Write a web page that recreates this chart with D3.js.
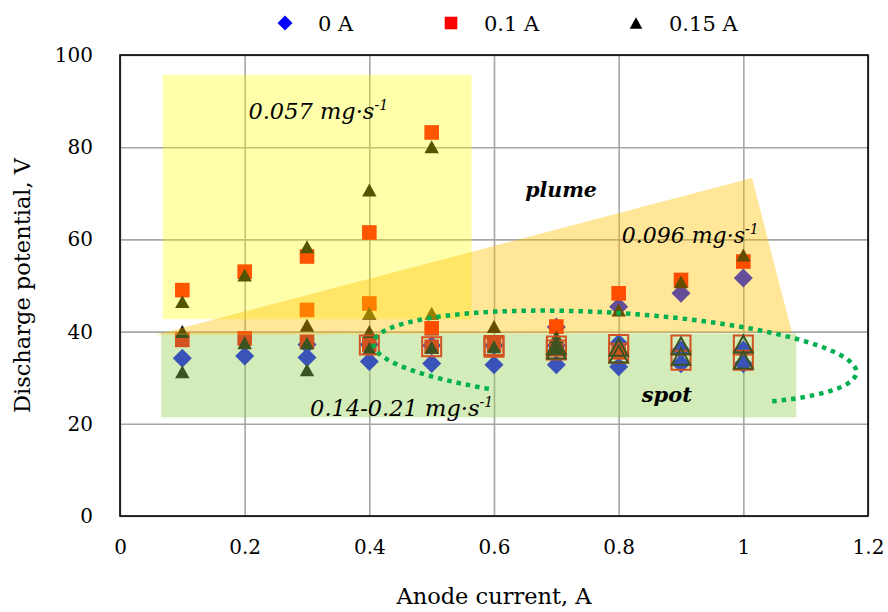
<!DOCTYPE html>
<html>
<head>
<meta charset="utf-8">
<script src="https://cdn.jsdelivr.net/npm/d3@7"></script>
<style>
  body { margin: 0; background: #fff; }
  svg text { font-family: "DejaVu Serif", "Liberation Serif", serif; fill: #000; }
</style>
</head>
<body>
<svg id="chart" width="888" height="612"></svg>
<script>
// Anode current values (A) shared by every run
const currents = [0.1, 0.2, 0.3, 0.4, 0.5, 0.6, 0.7, 0.8, 0.9, 1.0];

// Discharge potential (V) – magnetic coil current 0 A (diamonds)
const coil0_low  = [34.2, 34.7, 34.4, 33.5, 33.1, 32.8, 32.8, 32.4, 33.0, 33.0];
const coil0_mid  = [null, null, 37.2, 37.2, 37.0, 37.0, 37.0, 37.5, 36.0, 36.0];
const coil0_high = [null, null, null, null, null, null, 41.0, 45.4, 48.3, 51.6];

// Discharge potential (V) – coil current 0.1 A (squares)
const coil1_high = [49.0, 53.0, 56.3, 61.5, 83.2, null, 41.1, 48.3, 51.2, 55.2];
const coil1_mid  = [38.2, 38.5, 44.7, 46.1, 40.7, 37.1, 36.2, 35.5, null, null];
const coil1_low  = [null, null, 37.8, 37.1, 36.7, null, null, null, null, null];
const coil1_open_a = [null, null, null, 37.1, 36.7, 37.0, 36.9, 37.2, 37.1, 37.1];
const coil1_open_b = [null, null, null, null, null, 36.6, 36.0, 35.3, 33.8, 33.8];

// Discharge potential (V) – coil current 0.15 A (triangles)
const coil2_high = [46.5, 52.3, 58.4, 70.7, 80.1, null, null, 44.7, 50.8, 56.6];
const coil2_mid  = [40.0, 37.6, 41.4, 44.0, 44.0, 41.1, 38.9, null, null, null];
const coil2_low  = [31.3, null, 37.5, 40.0, 36.6, 36.7, 36.4, null, null, null];
const coil2_base = [null, null, 31.7, 36.4, null, null, null, null, null, null];
const coil2_open_a = [null, null, null, null, null, null, 36.9, 36.6, 36.9, 37.3];
const coil2_open_b = [null, null, null, null, null, null, 36.0, 35.1, 34.6, 33.8];

const seriesNames = ["0 A", "0.1 A", "0.15 A"];
const seriesColors = ["#0000FF", "#FF0000", "#000000"];

const xTicks = [0, 0.2, 0.4, 0.6, 0.8, 1, 1.2];
const yTicks = [0, 20, 40, 60, 80, 100];

// Shaded regime areas (data coordinates)
const yellowZone = { x0: 0.0685, x1: 0.564, y0: 42.7, y1: 95.7 };
const greenZone  = { x0: 0.066, x1: 1.085, y0: 21.4, y1: 39.6 };
const plumeZone  = [[0.058, 39.3], [1.014, 73.3], [1.078, 39.8]];

// Dotted "spot" outline: ellipse centre (data), radii (data units), tilt (deg)
const spotEllipse = { cx: 0.794, cy: 34.3, rx: 0.388, ry: 9.76, tilt: 3.5, t0: 0.85, t1: -4.18 };

const svg = d3.select("#chart");
const x = d3.scaleLinear().domain([0, 1.2]).range([120, 868]);
const y = d3.scaleLinear().domain([0, 100]).range([516, 55]);

// Grid lines
svg.append("g")
  .attr("transform", `translate(0,${y(0)})`)
  .call(d3.axisBottom(x).tickValues(xTicks).tickSize(-(y(0) - y(100))).tickFormat(""))
  .call(g => g.select(".domain").remove())
  .call(g => g.selectAll("line").attr("stroke", "#a6a6a6").attr("stroke-width", 1.6));
svg.append("g")
  .attr("transform", `translate(${x(0)},0)`)
  .call(d3.axisLeft(y).tickValues(yTicks).tickSize(-(x(1.2) - x(0))).tickFormat(""))
  .call(g => g.select(".domain").remove())
  .call(g => g.selectAll("line").attr("stroke", "#a6a6a6").attr("stroke-width", 1.6));

// Plot border
svg.append("rect")
  .attr("x", x(0)).attr("y", y(100))
  .attr("width", x(1.2) - x(0)).attr("height", y(0) - y(100))
  .attr("fill", "none").attr("stroke", "#000").attr("stroke-width", 1.6);

// Tick labels
const fmt = d => d3.format("~g")(d);
svg.append("g")
  .attr("transform", `translate(0,${y(0)})`)
  .call(d3.axisBottom(x).tickValues(xTicks).tickSize(0).tickPadding(24).tickFormat(fmt))
  .call(g => g.select(".domain").remove())
  .call(g => g.selectAll("text").attr("font-size", 20).attr("font-family", "DejaVu Serif"));
svg.append("g")
  .attr("transform", `translate(${x(0)},0)`)
  .call(d3.axisLeft(y).tickValues(yTicks).tickSize(0).tickPadding(27).tickFormat(fmt))
  .call(g => g.select(".domain").remove())
  .call(g => g.selectAll("text").attr("font-size", 20).attr("font-family", "DejaVu Serif"));

// Axis titles
svg.append("text").attr("x", (x(0) + x(1.2)) / 2).attr("y", 604)
  .attr("text-anchor", "middle").attr("font-size", 22.5).text("Anode current, A");
svg.append("text").attr("transform", `translate(30,${(y(0) + y(100)) / 2}) rotate(-90)`)
  .attr("text-anchor", "middle").attr("font-size", 22.5).text("Discharge potential, V");

// Marker shapes centred at (0,0)
const shapes = {
  diamond: s => `M0,${-s}L${s},0L0,${s}L${-s},0Z`,
  square: s => `M${-s},${-s}H${s}V${s}H${-s}Z`,
  triangle: s => `M0,${-s * 0.9}L${s},${s * 0.9}L${-s},${s * 0.9}Z`
};

function plotRun(values, shape, size, color, open) {
  const pts = currents.map((c, i) => [c, values[i]]).filter(d => d[1] != null);
  svg.append("g").selectAll("path").data(pts).join("path")
    .attr("transform", d => `translate(${x(d[0])},${y(d[1])})`)
    .attr("d", shapes[shape](size))
    .attr("fill", open ? "none" : color)
    .attr("stroke", open ? color : "none")
    .attr("stroke-width", open ? 2 : 0);
}

// 0 A
[coil0_low, coil0_mid, coil0_high].forEach(v => plotRun(v, "diamond", 9.5, seriesColors[0], false));
// 0.1 A
[coil1_high, coil1_mid, coil1_low].forEach(v => plotRun(v, "square", 7.3, seriesColors[1], false));
// 0.15 A
[coil2_high, coil2_mid, coil2_low, coil2_base].forEach(v => plotRun(v, "triangle", 7.2, seriesColors[2], false));
// open markers
[coil1_open_a, coil1_open_b].forEach(v => plotRun(v, "square", 9.5, seriesColors[1], true));
[coil2_open_a, coil2_open_b].forEach(v => plotRun(v, "triangle", 9.3, seriesColors[2], true));

// Translucent regime zones over the data
svg.append("rect")
  .attr("x", x(yellowZone.x0)).attr("y", y(yellowZone.y1))
  .attr("width", x(yellowZone.x1) - x(yellowZone.x0))
  .attr("height", y(yellowZone.y0) - y(yellowZone.y1))
  .attr("fill", "#FFFF00").attr("fill-opacity", 0.33);
svg.append("rect")
  .attr("x", x(greenZone.x0)).attr("y", y(greenZone.y1))
  .attr("width", x(greenZone.x1) - x(greenZone.x0))
  .attr("height", y(greenZone.y0) - y(greenZone.y1))
  .attr("fill", "#92D050").attr("fill-opacity", 0.4);
svg.append("path")
  .attr("d", d3.line().x(d => x(d[0])).y(d => y(d[1]))(plumeZone) + "Z")
  .attr("fill", "#FFC000").attr("fill-opacity", 0.4);

// Dotted outline around the spot regime
(function () {
  const e = spotEllipse;
  const cx = x(e.cx), cy = y(e.cy);
  const rx = x(e.cx + e.rx) - cx, ry = y(e.cy) - y(e.cy + e.ry);
  const th = e.tilt * Math.PI / 180;
  const ts = d3.range(0, 201).map(i => e.t0 + (e.t1 - e.t0) * i / 200);
  const pts = ts.map(t => [
    cx + rx * Math.cos(t) * Math.cos(th) - ry * Math.sin(t) * Math.sin(th),
    cy + rx * Math.cos(t) * Math.sin(th) + ry * Math.sin(t) * Math.cos(th)
  ]);
  svg.append("path").attr("d", d3.line().curve(d3.curveLinear)(pts))
    .attr("fill", "none").attr("stroke", "#00B050")
    .attr("stroke-width", 4.5).attr("stroke-dasharray", "4.5 5");
})();

// Zone annotations
function rateLabel(px, py, main, size) {
  const t = svg.append("text").attr("x", px).attr("y", py)
    .attr("font-size", size).attr("font-style", "italic");
  t.append("tspan").text(main);
  t.append("tspan").attr("dy", -9).attr("font-size", 14).text("-1");
}
rateLabel(x(0.206), y(86.2), "0.057 mg·s", 22.5);
rateLabel(x(0.805), y(59.2), "0.096 mg·s", 22);
rateLabel(x(0.305), y(21.8), "0.14-0.21 mg·s", 22.5);
svg.append("text").attr("x", x(0.65)).attr("y", y(69.2))
  .attr("font-size", 20.5).attr("font-style", "italic").attr("font-weight", "bold").text("plume");
svg.append("text").attr("x", x(0.837)).attr("y", y(24.8))
  .attr("font-size", 21).attr("font-style", "italic").attr("font-weight", "bold").text("spot");

// Legend
const legendX = [285, 451, 636];
const legend = svg.append("g");
seriesNames.forEach((name, i) => {
  const shape = ["diamond", "square", "triangle"][i];
  const size = [7.5, 6.3, 6.3][i];
  legend.append("path").attr("transform", `translate(${legendX[i]},23)`)
    .attr("d", shapes[shape](size)).attr("fill", seriesColors[i]);
  legend.append("text").attr("x", legendX[i] + 33).attr("y", 31)
    .attr("font-size", 21).text(name);
});
</script>
</body>
</html>
